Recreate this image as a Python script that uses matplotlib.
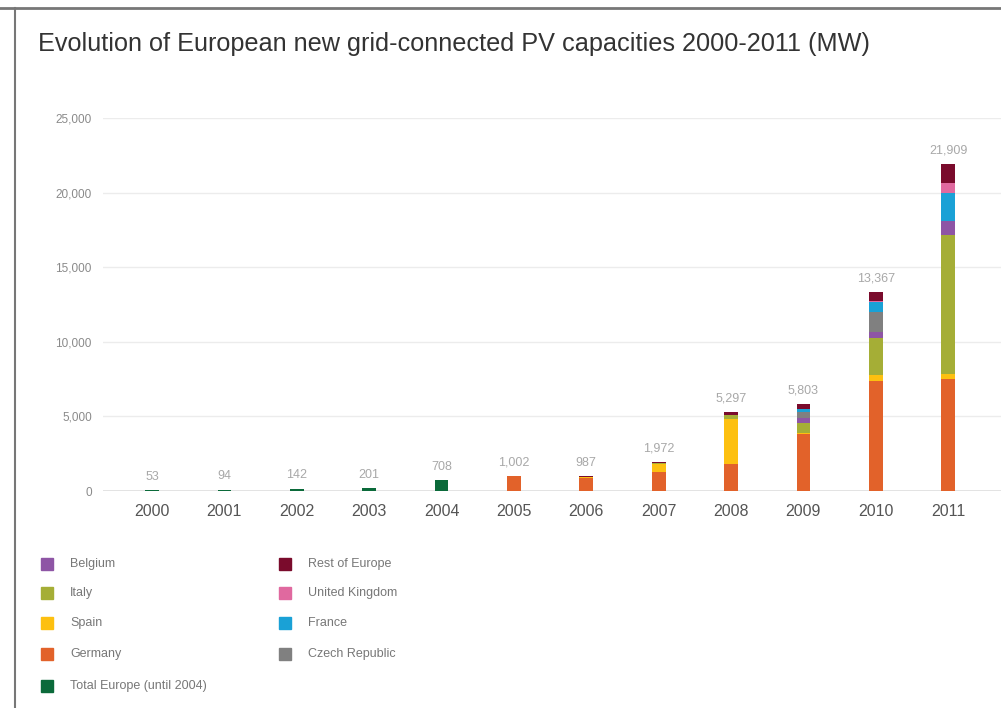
import matplotlib.pyplot as plt
import numpy as np

plt.rcParams['font.family'] = ['Liberation Sans', 'DejaVu Sans']

# Datos
years = ['2000', '2001', '2002', '2003', '2004', '2005',
         '2006', '2007', '2008', '2009', '2010', '2011']
totals = [53, 94, 142, 201, 708, 1002, 987, 1972, 5297, 5803, 13367, 21909]

total_europe = [53, 94, 142, 201, 708, 0, 0, 0, 0, 0, 0, 0]
germany = [0, 0, 0, 0, 0, 1002, 850, 1270, 1800, 3800, 7400, 7500]
spain = [0, 0, 0, 0, 0, 0, 100, 560, 3000, 60, 370, 370]
italy = [0, 0, 0, 0, 0, 0, 0, 70, 300, 720, 2480, 9300]
belgium = [0, 0, 0, 0, 0, 0, 0, 0, 0, 290, 420, 900]
czech = [0, 0, 0, 0, 0, 0, 0, 0, 0, 410, 1330, 6]
france = [0, 0, 0, 0, 0, 0, 0, 0, 0, 220, 700, 1900]
uk = [0, 0, 0, 0, 0, 0, 0, 0, 0, 0, 60, 700]
rest = [0, 0, 0, 0, 0, 0, 37, 72, 197, 303, 607, 1233]

series = [
    ('Total Europe (until 2004)', total_europe, '#0b6a3a'),
    ('Germany', germany, '#e2622a'),
    ('Spain', spain, '#fdc010'),
    ('Italy', italy, '#a5ae36'),
    ('Belgium', belgium, '#8e55a5'),
    ('Czech Republic', czech, '#808080'),
    ('France', france, '#1aa1d6'),
    ('United Kingdom', uk, '#e0699f'),
    ('Rest of Europe', rest, '#7a0b2c'),
]

fig = plt.figure(figsize=(10.01, 7.08), dpi=100)
ax = fig.add_axes([103 / 1001, 1 - 491 / 708, (1001 - 103) / 1001, (491 - 118) / 708])

x = np.arange(len(years))
bottom = np.zeros(len(years))
for name, vals, col in series:
    vals = np.array(vals, dtype=float)
    ax.bar(x, vals, width=0.19, bottom=bottom, color=col, linewidth=0)
    bottom += vals

# Etiquetas de totales
for xi, t in zip(x, totals):
    ax.text(xi, max(t, bottom[xi]) + 500, f'{t:,}', ha='center', va='bottom',
            fontsize=9, color='#a8a8a8')

ax.set_xlim(-0.677, 11.73)
ax.set_ylim(0, 25000)
ax.set_yticks([0, 5000, 10000, 15000, 20000, 25000])
ax.set_yticklabels(['0', '5,000', '10,000', '15,000', '20,000', '25,000'],
                   fontsize=8.5, color='#8a8a8a')
ax.set_xticks(x)
ax.set_xticklabels(years, fontsize=11.5, color='#555555')
ax.tick_params(axis='x', length=0, pad=9)
ax.tick_params(axis='y', length=0, pad=8)
ax.grid(axis='y', color='#ececec', linewidth=1)
ax.set_axisbelow(True)
for s in ax.spines.values():
    s.set_visible(False)
ax.axhline(0, color='#dddddd', linewidth=1.2, zorder=0.5)

# Titulo
fig.text(38 / 1001, 1 - 44 / 708, 'Evolution of European new grid-connected PV capacities 2000-2011 (MW)',
         fontsize=18.2, color='#333333', va='center', ha='left')

# Leyenda manual
col1 = ['Belgium', 'Italy', 'Spain', 'Germany', 'Total Europe (until 2004)']
col2 = ['Rest of Europe', 'United Kingdom', 'France', 'Czech Republic']
colors = {name: col for name, vals, col in series}
rows_y = [564, 593, 623, 654, 686]
for cx, names in [(47, col1), (285, col2)]:
    for name, yy in zip(names, rows_y):
        fig.patches.append(plt.Rectangle(((cx - 6) / 1001, 1 - (yy + 6) / 708), 12 / 1001, 12 / 708,
                                         transform=fig.transFigure, color=colors[name]))
        fig.text((cx + 23) / 1001, 1 - yy / 708, name, fontsize=9, color='#777777', va='center')

# Marco
fig.add_artist(plt.Line2D([0, 1], [1 - 8 / 708, 1 - 8 / 708], transform=fig.transFigure,
                          color='#777777', linewidth=2))
fig.add_artist(plt.Line2D([15 / 1001, 15 / 1001], [0, 1 - 8 / 708], transform=fig.transFigure,
                          color='#777777', linewidth=1.5))

fig.savefig('out.png', dpi=100)
